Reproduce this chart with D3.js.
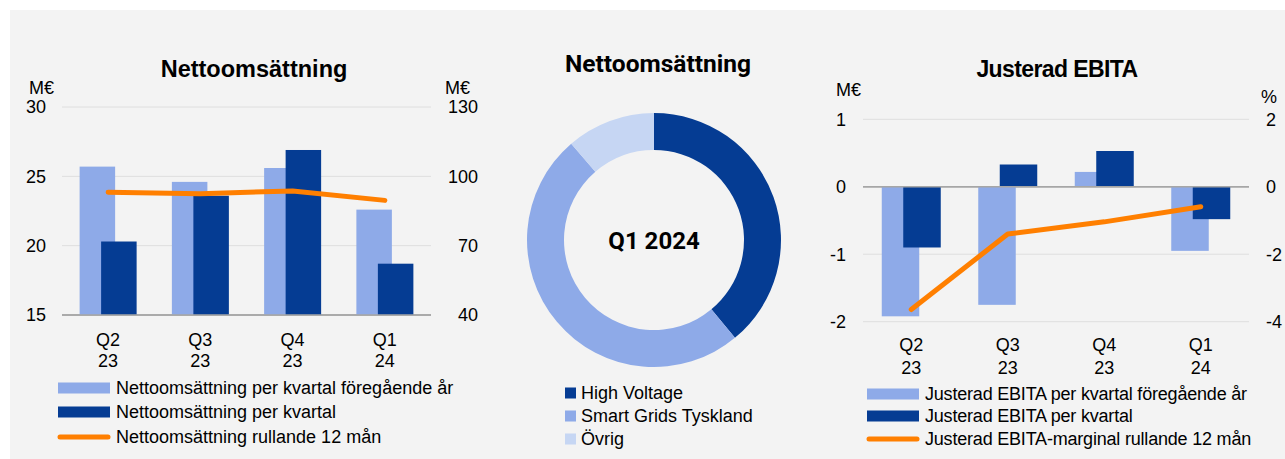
<!DOCTYPE html>
<html><head><meta charset="utf-8">
<script src="https://cdn.jsdelivr.net/npm/d3@7"></script>
<style>
html,body{margin:0;padding:0;background:#fff;}
svg text{font-family:"Liberation Sans",Arial,sans-serif;fill:#000;}
</style></head>
<body><svg id="c" width="1285" height="459"></svg>
<script>
// ---- data ----
const categories = ["Q2\n23", "Q3\n23", "Q4\n23", "Q1\n24"];
const salesPrevYear = [25.7, 24.6, 25.6, 22.6];
const salesQuarter = [20.3, 23.6, 26.9, 18.7];
const salesRolling12 = [93.1, 92.5, 93.7, 89.6];
const salesLeftTicks = [15, 20, 25, 30];
const salesRightTicks = [40, 70, 100, 130];

const donutLabels = ["High Voltage", "Smart Grids Tyskland", "Övrig"];
const donutValues = [39, 49.7, 11.3];

const ebitaPrevYear = [-1.92, -1.75, 0.22, -0.95];
const ebitaQuarter = [-0.9, 0.33, 0.53, -0.48];
const ebitaMargin12 = [-3.64, -1.4, -1.04, -0.59];
const ebitaLeftTicks = [-2, -1, 0, 1];
const ebitaRightTicks = [-4, -2, 0, 2];

const legendSales = ["Nettoomsättning per kvartal föregående år", "Nettoomsättning per kvartal", "Nettoomsättning rullande 12 mån"];
const legendEbita = ["Justerad EBITA per kvartal föregående år", "Justerad EBITA per kvartal", "Justerad EBITA-marginal rullande 12 mån"];

// ---- styles ----
const cLight = "#8eaae8", cDark = "#053c93", cLightest = "#c6d6f3", cOrange = "#ff7f00";
const gridC = "#dedede", baseC = "#a6a6a6";
const FS = 18;

const svg = d3.select("#c");
svg.append("rect").attr("x",10).attr("y",10).attr("width",1275).attr("height",449).attr("fill","#f3f3f3");

function barChart(o){
  const g = svg.append("g");
  const x = d3.scaleBand().domain(categories).range([o.x0,o.x1]);
  const yL = d3.scaleLinear().domain(o.ldom).range([o.yb,o.yt]);
  const yR = d3.scaleLinear().domain(o.rdom).range([o.yb,o.yt]);
  g.selectAll(".grid").data(o.lticks).join("line")
    .attr("x1",o.x0).attr("x2",o.x1).attr("y1",d=>yL(d)).attr("y2",d=>yL(d))
    .attr("stroke",d=>d===o.base?baseC:gridC).attr("stroke-width",d=>d===o.base?1.5:1);
  g.selectAll(".lt").data(o.lticks).join("text")
    .attr("x",o.lx).attr("y",d=>yL(d)).attr("dy","0.36em").attr("text-anchor","end")
    .attr("font-size",FS).text(d=>d);
  g.selectAll(".rt").data(o.rticks).join("text")
    .attr("x",o.rx).attr("y",d=>yR(d)).attr("dy","0.36em").attr("text-anchor",o.ranchor)
    .attr("font-size",FS).text(d=>d);
  const bw = o.bw, off = o.off;
  const y0 = yL(o.base);
  const bar = (vals, dx, col) => g.selectAll(null).data(vals).join("rect")
    .attr("x",(d,i)=>x(categories[i])+x.bandwidth()/2+dx)
    .attr("width",bw)
    .attr("y",d=>Math.min(yL(d),y0)).attr("height",d=>Math.abs(yL(d)-y0))
    .attr("fill",col);
  bar(o.prev, -off-bw/2, cLight);
  bar(o.cur, off-bw/2, cDark);
  g.append("line").attr("x1",o.x0).attr("x2",o.x1).attr("y1",y0).attr("y2",y0).attr("stroke",baseC).attr("stroke-width",1.5);
  const line = d3.line().x((d,i)=>x(categories[i])+x.bandwidth()/2).y(d=>yR(d));
  g.append("path").attr("d",line(o.line)).attr("fill","none").attr("stroke",cOrange)
    .attr("stroke-width",5).attr("stroke-linecap","round").attr("stroke-linejoin","round");
  categories.forEach(c=>{
    c.split("\n").forEach((p,k)=>{
      g.append("text").attr("x",x(c)+x.bandwidth()/2).attr("y",o.xly[k]).attr("dy","0.36em")
        .attr("text-anchor","middle").attr("font-size",FS).text(p);
    });
  });
  g.append("text").attr("x",o.tx).attr("y",69).attr("dy","0.36em").attr("text-anchor","middle")
    .attr("font-size",o.tfs).attr("font-weight","bold").attr("letter-spacing",o.tls||0).text(o.title);
  g.append("text").attr("x",o.ulx).attr("y",o.uly).attr("dy","0.36em").attr("font-size",FS).text("M€");
  g.append("text").attr("x",o.urx).attr("y",o.ury).attr("dy","0.36em").attr("font-size",FS).text(o.runit);
  o.legend.forEach((t,i)=>{
    const yy = o.legY[i];
    if(i<2){
      g.append("rect").attr("x",o.legX).attr("y",yy-5.5).attr("width",52).attr("height",11).attr("fill",i===0?cLight:cDark);
    } else {
      g.append("line").attr("x1",o.legX+2).attr("x2",o.legX+50).attr("y1",yy).attr("y2",yy)
        .attr("stroke",cOrange).attr("stroke-width",5).attr("stroke-linecap","round");
    }
    g.append("text").attr("x",o.legX+58).attr("y",yy).attr("dy","0.36em").attr("font-size",FS)
      .attr("letter-spacing",o.lls).text(t);
  });
}

barChart({
  x0:62,x1:431,yt:107,yb:315,ldom:[15,30],rdom:[40,130],lticks:salesLeftTicks,rticks:salesRightTicks,
  base:15,lx:46,rx:478,ranchor:"end",bw:35.5,off:10.75,prev:salesPrevYear,cur:salesQuarter,line:salesRolling12,
  xly:[340,361],tx:254,tfs:23.5,title:"Nettoomsättning",ulx:29,uly:88,urx:445,ury:88,runit:"M€",
  legend:legendSales,legX:58,legY:[388,412,437],lls:0
});

barChart({
  x0:863,x1:1249,yt:119.3,yb:321.7,ldom:[-2,1],rdom:[-4,2],lticks:ebitaLeftTicks,rticks:ebitaRightTicks,
  base:0,lx:846,rx:1266,ranchor:"start",bw:37.5,off:10.75,prev:ebitaPrevYear,cur:ebitaQuarter,line:ebitaMargin12,
  xly:[345,368],tx:1057,tfs:23,title:"Justerad EBITA",tls:-0.6,ulx:836,uly:90,urx:1261,ury:97,runit:"%",
  legend:legendEbita,legX:867,legY:[394,416,439],lls:-0.2
});

// ---- donut ----
const dg = svg.append("g").attr("transform","translate(654,240)");
const pie = d3.pie().sort(null)(donutValues);
const arc = d3.arc().innerRadius(90).outerRadius(127);
const dcols = [cDark, cLight, cLightest];
dg.selectAll("path").data(pie).join("path").attr("d",arc).attr("fill",(d,i)=>dcols[i]);
dg.append("text").attr("text-anchor","middle").attr("dy","0.36em").attr("font-size",24)
  .attr("font-weight","bold").style("font-family","Roboto").text("Q1 2024");
svg.append("text").attr("x",658).attr("y",63).attr("dy","0.36em").attr("text-anchor","middle")
  .attr("font-size",24.5).attr("font-weight","bold").style("font-family","Roboto").text("Nettoomsättning");
donutLabels.forEach((t,i)=>{
  const yy=[393,416,439][i];
  svg.append("rect").attr("x",565).attr("y",yy-5.5).attr("width",11).attr("height",11).attr("fill",dcols[i]);
  svg.append("text").attr("x",581).attr("y",yy).attr("dy","0.36em").attr("font-size",FS).text(t);
});
</script></body></html>
